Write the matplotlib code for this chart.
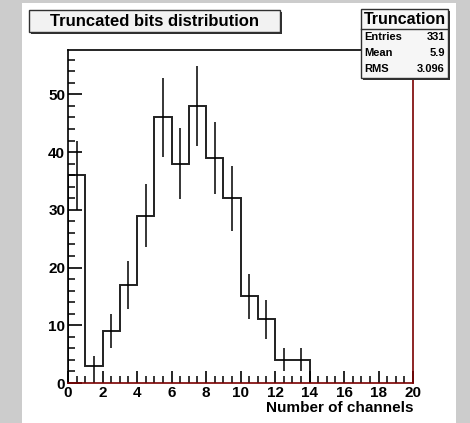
import numpy as np
import matplotlib
matplotlib.use("Agg")
import matplotlib.pyplot as plt
from matplotlib.patches import Rectangle
from matplotlib.ticker import MultipleLocator

# bin edges and counts
edges = np.arange(0, 21, 1)
counts = [36, 3, 9, 17, 29, 46, 38, 48, 39, 32, 15, 11, 4, 4, 0, 0, 0, 0, 0, 0]
stat_labels = ["Entries", "Mean", "RMS"]
stat_values = ["331", "5.9", "3.096"]
title = "Truncated bits distribution"
hist_name = "Truncation"
xlabel = "Number of channels"

counts = np.array(counts, dtype=float)
errs = np.sqrt(counts)
centers = 0.5 * (edges[:-1] + edges[1:])
FONT = ["Liberation Sans", "DejaVu Sans"]

W, H = 470, 423
fig = plt.figure(figsize=(W / 100, H / 100), dpi=100)
fig.patch.set_facecolor("#cccccc")
# white pad
fig.patches.append(Rectangle((22 / W, 0), (456 - 22) / W, 1 - 3 / H,
                             transform=fig.transFigure, facecolor="white",
                             edgecolor="none", zorder=-5))

ax = fig.add_axes([68 / W, 1 - 383 / H, (413 - 68) / W, (383 - 50) / H])
ax.set_zorder(1)
ax.set_facecolor("white")
ax.set_xlim(0, 20)
ax.set_ylim(0, 1.05 * max(counts + errs))

nz = np.nonzero(counts)[0]
last = nz[-1] + 1
ax.stairs(counts[:last], edges[:last + 1], color="#202020", lw=1.4)
ax.vlines(centers[nz], counts[nz] - errs[nz], counts[nz] + errs[nz],
          color="black", lw=1.1)

for s in ["left", "top"]:
    ax.spines[s].set_color("black")
for s in ["right", "bottom"]:
    ax.spines[s].set_color("#7a0000")
for s in ax.spines.values():
    s.set_linewidth(1.2)

ax.xaxis.set_major_locator(MultipleLocator(2))
ax.xaxis.set_minor_locator(MultipleLocator(0.5))
ax.yaxis.set_major_locator(MultipleLocator(10))
ax.yaxis.set_minor_locator(MultipleLocator(2))
ax.tick_params(axis="both", which="both", direction="in", top=False, right=False)
ax.tick_params(axis="x", which="major", length=9, width=1.2, pad=2)
ax.tick_params(axis="x", which="minor", length=5, width=1.1)
ax.tick_params(axis="y", which="major", length=10, width=1.2, pad=2)
ax.tick_params(axis="y", which="minor", length=5, width=1.1)
for lab in ax.get_xticklabels() + ax.get_yticklabels():
    lab.set_fontweight("bold")
    lab.set_fontsize(11)
    lab.set_family(FONT)

ax.set_xlabel(xlabel, fontsize=11, fontweight="bold", family=FONT)
ax.xaxis.set_label_coords(1.0, -0.055)
ax.xaxis.label.set_horizontalalignment("right")

# title box
tx0, ty0, tx1, ty1 = 29, 10, 280, 32
fig.patches.append(Rectangle(((tx0 + 2) / W, 1 - (ty1 + 2) / H), (tx1 - tx0) / W, (ty1 - ty0) / H,
                             transform=fig.transFigure, facecolor="#303030", edgecolor="none", zorder=3))
fig.patches.append(Rectangle((tx0 / W, 1 - ty1 / H), (tx1 - tx0) / W, (ty1 - ty0) / H,
                             transform=fig.transFigure, facecolor="#f2f2f2", edgecolor="#303030",
                             lw=1.0, zorder=4))
fig.text((tx0 + tx1) / 2 / W, 1 - (ty0 + ty1 + 1) / 2 / H, title, ha="center", va="center",
         fontsize=12, fontweight="bold", family=FONT, zorder=5)

# stats box
sx0, sy0, sx1, sy1 = 361, 9, 448, 78
fig.patches.append(Rectangle(((sx0 + 2) / W, 1 - (sy1 + 2) / H), (sx1 - sx0) / W, (sy1 - sy0) / H,
                             transform=fig.transFigure, facecolor="#303030", edgecolor="none", zorder=3))
fig.patches.append(Rectangle((sx0 / W, 1 - sy1 / H), (sx1 - sx0) / W, (sy1 - sy0) / H,
                             transform=fig.transFigure, facecolor="#f6f6f6", edgecolor="#303030",
                             lw=1.0, zorder=4))
fig.add_artist(plt.Line2D([sx0 / W, sx1 / W], [1 - 29 / H, 1 - 29 / H],
                          transform=fig.transFigure, color="#303030", lw=1.0, zorder=5))
fig.text((sx0 + sx1) / 2 / W, 1 - 19 / H, hist_name, ha="center", va="center",
         fontsize=11.5, fontweight="bold", family=FONT, zorder=6)
for i, (lab, val) in enumerate(zip(stat_labels, stat_values)):
    yy = 1 - (37 + i * 16) / H
    fig.text((sx0 + 3) / W, yy, lab, ha="left", va="center", fontsize=8,
             fontweight="bold", family=FONT, zorder=6)
    fig.text((sx1 - 3) / W, yy, val, ha="right", va="center", fontsize=8,
             fontweight="bold", family=FONT, zorder=6)

fig.savefig("out.png", dpi=100, facecolor=fig.get_facecolor())
